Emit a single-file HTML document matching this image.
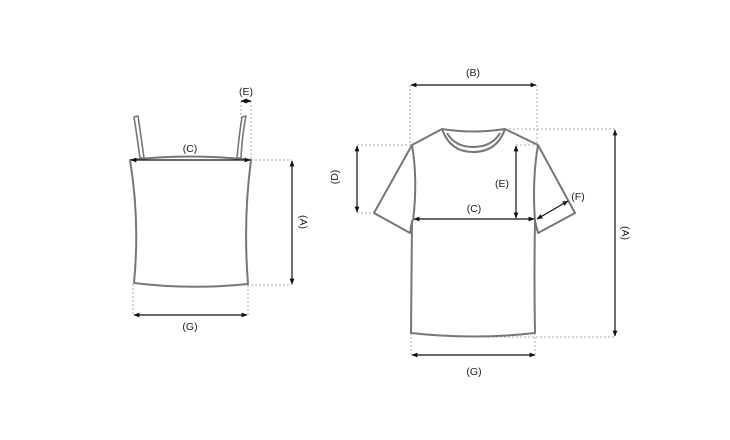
<!DOCTYPE html>
<html><head><meta charset="utf-8"><style>
html,body{margin:0;padding:0;background:#fff;width:730px;height:440px;overflow:hidden}
svg{display:block}
text{font-family:"Liberation Sans",sans-serif;font-size:10.5px;fill:#222}
</style></head><body>
<svg width="730" height="440" viewBox="0 0 730 440" xmlns="http://www.w3.org/2000/svg">
<defs>
<marker id="a" viewBox="0 0 10 10" refX="9" refY="5" markerWidth="5" markerHeight="5" orient="auto-start-reverse"><path d="M0,1 L10,5 L0,9 z" fill="#111"/></marker>
</defs>
<g fill="none" stroke="#aaa" stroke-width="1" stroke-dasharray="2,2">
<line x1="241" y1="101" x2="241" y2="118"/>
<line x1="251" y1="101" x2="251" y2="160"/>
<line x1="251" y1="160" x2="292" y2="160"/>
<line x1="247" y1="285" x2="292" y2="285"/>
<line x1="133" y1="284" x2="133" y2="315"/>
<line x1="248" y1="285" x2="248" y2="315"/>
<line x1="410" y1="85" x2="410" y2="145"/>
<line x1="537" y1="85" x2="537" y2="145"/>
<line x1="505" y1="129" x2="615" y2="129"/>
<line x1="480" y1="337" x2="615" y2="337"/>
<line x1="357" y1="145" x2="412" y2="145"/>
<line x1="357" y1="213" x2="374" y2="213"/>
<line x1="516" y1="145" x2="538" y2="145"/>
<line x1="516" y1="219" x2="535" y2="219"/>
<line x1="411" y1="333" x2="411" y2="355"/>
<line x1="535" y1="333" x2="535" y2="355"/>
</g>
<g fill="none" stroke="#777" stroke-width="1.6" stroke-linejoin="round">
<path d="M134,117 L138,116 Q141,136 144,158 L140,158 Q137,136 134,117 Z"/>
<path d="M242,117 L246,116 Q242,136 241,158 L237,158 Q239,136 242,117 Z"/>
</g>
<g fill="#fff" stroke="#777" stroke-width="2" stroke-linejoin="round">
<path d="M130,160 Q190,153 251,160 Q243,220 248,284 Q190,290 134,283 Q140,220 130,160 Z"/>
</g>
<g fill="none" stroke="#777" stroke-width="2" stroke-linejoin="round">
<path d="M442,129 Q473,134 505,129 L538,145 L575,213 L538,233 L535,221 Q534,280 535,333 Q473,340 411,333 L412,221 L410,233 L374,213 L412,145 Z"/>
<path d="M442,129 Q450,152 473,152 Q497,152 505,129"/>
<path d="M447,133 Q455,147 473,147 Q492,147 500,133"/>
<path d="M412,145 Q418,180 413,221"/>
<path d="M538,145 Q532,180 535,221"/>
</g>
<g stroke="#111" stroke-width="1.2" marker-start="url(#a)" marker-end="url(#a)">
<line x1="131" y1="160" x2="250" y2="160"/>
<line x1="241" y1="101" x2="251" y2="101"/>
<line x1="292" y1="161" x2="292" y2="284"/>
<line x1="134" y1="315" x2="247" y2="315"/>
<line x1="411" y1="85" x2="536" y2="85"/>
<line x1="615" y1="130" x2="615" y2="336"/>
<line x1="357" y1="146" x2="357" y2="212"/>
<line x1="516" y1="146" x2="516" y2="218"/>
<line x1="414" y1="219" x2="534" y2="219"/>
<line x1="537" y1="219" x2="568" y2="201"/>
<line x1="412" y1="355" x2="535" y2="355"/>
</g>
<text x="246" y="95" text-anchor="middle">(E)</text>
<text x="190" y="152" text-anchor="middle">(C)</text>
<text x="190" y="330" text-anchor="middle">(G)</text>
<text transform="translate(300,222) rotate(90)" text-anchor="middle">(A)</text>
<text x="473" y="76" text-anchor="middle">(B)</text>
<text x="502" y="187" text-anchor="middle">(E)</text>
<text x="474" y="212" text-anchor="middle">(C)</text>
<text x="578" y="200" text-anchor="middle">(F)</text>
<text x="474" y="375" text-anchor="middle">(G)</text>
<text transform="translate(338,177) rotate(-90)" text-anchor="middle">(D)</text>
<text transform="translate(622,233) rotate(90)" text-anchor="middle">(A)</text>
</svg>
</body></html>
